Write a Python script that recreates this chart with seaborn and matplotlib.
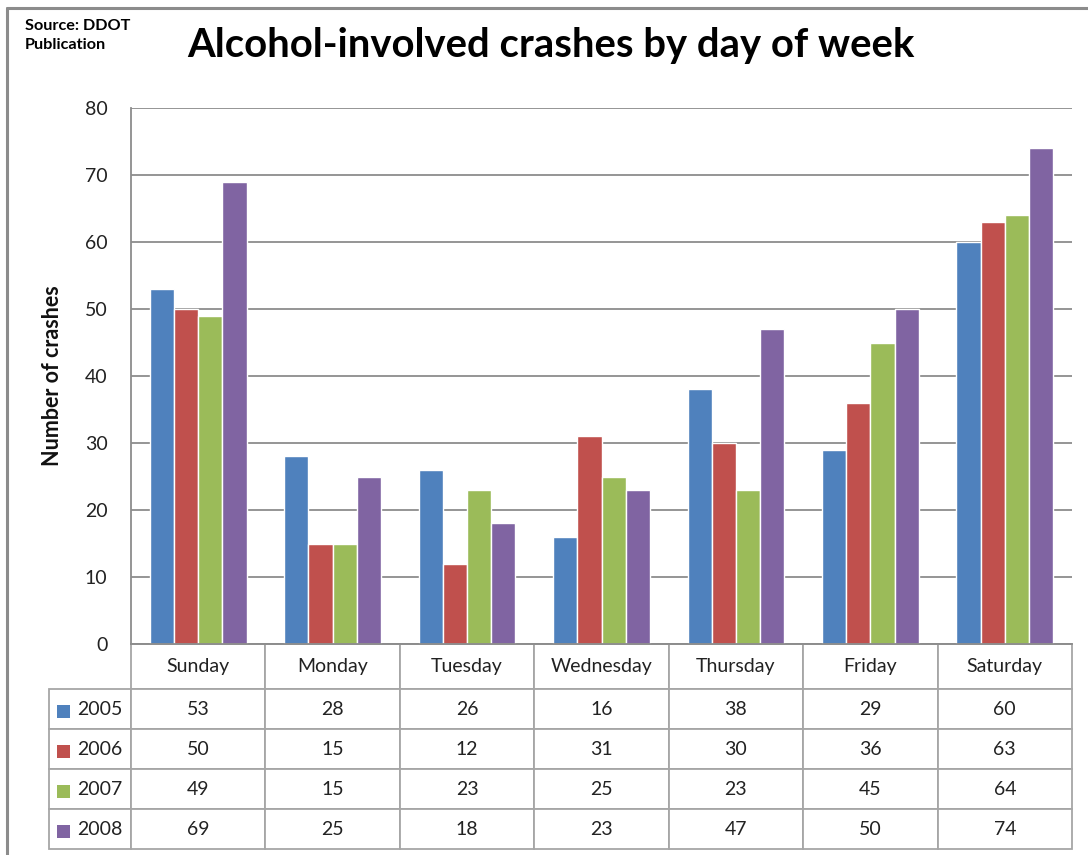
import numpy as np
import pandas as pd
import seaborn as sns
import matplotlib.pyplot as plt
from matplotlib.patches import Rectangle
from matplotlib.lines import Line2D

# Datos del gráfico
dias = ["Sunday", "Monday", "Tuesday", "Wednesday", "Thursday", "Friday", "Saturday"]
anios = ["2005", "2006", "2007", "2008"]
v2005 = [53, 28, 26, 16, 38, 29, 60]
v2006 = [50, 15, 12, 31, 30, 36, 63]
v2007 = [49, 15, 23, 25, 23, 45, 64]
v2008 = [69, 25, 18, 23, 47, 50, 74]
colores = ["#4F81BD", "#C0504D", "#9BBB59", "#8064A2"]

series = {"2005": v2005, "2006": v2006, "2007": v2007, "2008": v2008}

# Pasamos a formato largo para seaborn
filas = []
for anio in anios:
    for dia, val in zip(dias, series[anio]):
        filas.append({"dia": dia, "anio": anio, "valor": val})
df = pd.DataFrame(filas)

sns.set_theme(style="white")
plt.rcParams["font.family"] = ["Lato", "DejaVu Sans"]

W, H = 1088, 855
fig = plt.figure(figsize=(W / 100, H / 100), dpi=100)

# Área de dibujo en píxeles
x0, x1 = 131, 1072
y_top, y_bot = 108, 644
ax = fig.add_axes([x0 / W, 1 - y_bot / H, (x1 - x0) / W, (y_bot - y_top) / H])

sns.barplot(
    data=df, x="dia", y="valor", hue="anio",
    order=dias, hue_order=anios, palette=colores,
    width=0.72, gap=0, saturation=1, legend=False, ax=ax,
)

gris = "#8C8C8C"
ax.set_ylim(0, 80)
ax.set_yticks(range(0, 81, 10))
ax.yaxis.grid(True, color=gris, lw=1.3)
ax.set_axisbelow(True)
for lado in ["top", "right"]:
    ax.spines[lado].set_visible(False)
ax.spines["left"].set_color(gris)
ax.spines["bottom"].set_color(gris)
ax.spines["left"].set_linewidth(1.3)
ax.spines["bottom"].set_linewidth(1.3)
ax.tick_params(axis="y", length=0, pad=17, labelsize=14, labelcolor="#222222")
ax.tick_params(axis="x", length=0)
ax.set_xticklabels([])
ax.set_xlabel("")
ax.set_ylabel("Number of crashes", fontsize=15.5, fontweight="bold", color="#111111")
ax.yaxis.set_label_coords((63 - x0) / (x1 - x0), 0.5)

# Tabla de datos bajo el gráfico
alto_px = y_bot - y_top
tabla_bot = 849
alto_tabla = (tabla_bot - y_bot) / alto_px
h_cab = 45 / alto_px
h_fila = 40 / alto_px
ancho_lab = (x0 - 49) / (x1 - x0)
valores = [[str(v) for v in series[a]] for a in anios]
tabla = ax.table(
    cellText=valores, colLabels=dias, cellLoc="center", colLoc="center",
    bbox=[0, -alto_tabla, 1, alto_tabla],
)
# Columna de etiquetas de año (la añadimos a mano para controlar su ancho)
for i, anio in enumerate(anios):
    tabla.add_cell(i + 1, -1, width=ancho_lab, height=h_fila, text=anio, loc="right")
tabla.auto_set_font_size(False)
tabla.set_fontsize(14)
for (r, c), celda in tabla.get_celld().items():
    celda.set_edgecolor("#A6A6A6")
    celda.set_linewidth(1.3)
    celda.set_height(h_cab if r == 0 else h_fila)
    if c >= 0:
        celda.set_width(1 / len(dias))
    celda.get_text().set_color("#222222")

# Cuadraditos de color de la leyenda en la tabla
lado_px = 13
for i, col in enumerate(colores):
    yc = -(h_cab + h_fila * (i + 0.5)) - 2 / alto_px
    ax.add_patch(Rectangle(
        ((57 - x0) / (x1 - x0), yc - lado_px / alto_px / 2),
        lado_px / (x1 - x0), lado_px / alto_px,
        transform=ax.transAxes, facecolor=col, edgecolor="none",
        clip_on=False, zorder=5,
    ))

# Títulos
fig.text(0.5066, 1 - 57 / H, "Alcohol-involved crashes by day of week",
         ha="center", va="baseline", fontsize=28.8, fontweight="bold", color="black")
fig.text(25 / W, 1 - 19 / H, "Source: DDOT\nPublication", ha="left", va="top",
         fontsize=11.7, fontweight="bold", color="black", linespacing=1.45)

# Borde exterior del gráfico
fig.add_artist(Line2D([7 / W, 7 / W], [0, 1 - 8 / H], color="#8C8C8C", lw=2.2))
fig.add_artist(Line2D([7 / W, 1], [1 - 8 / H, 1 - 8 / H], color="#8C8C8C", lw=2.2))

fig.savefig("out.png", dpi=100)
